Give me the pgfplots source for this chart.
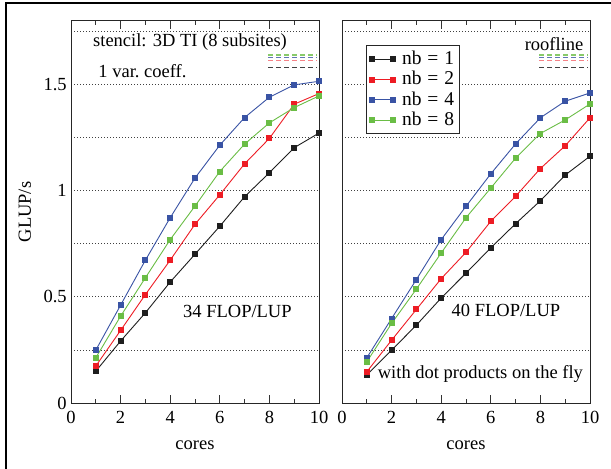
\documentclass[border=0pt]{standalone}
\usepackage{fontspec}
\setmainfont{Liberation Serif}
\usepackage{pgfplots}
\usepackage{pgfplotstable}
\pgfplotsset{compat=1.18}

\definecolor{nbone}{RGB}{30,30,30}
\definecolor{nbtwo}{RGB}{237,28,36}
\definecolor{nbfour}{RGB}{57,83,164}
\definecolor{nbeight}{RGB}{106,189,69}

% GLUP/s versus cores, 34 FLOP/LUP kernel
\pgfplotstableread{
cores nb1   nb2   nb4   nb8
1     0.150 0.174 0.249 0.213
2     0.292 0.342 0.461 0.409
3     0.425 0.511 0.673 0.590
4     0.570 0.673 0.873 0.770
5     0.701 0.842 1.060 0.928
6     0.833 0.981 1.215 1.091
7     0.972 1.127 1.345 1.220
8     1.085 1.247 1.441 1.320
9     1.203 1.408 1.499 1.392
10    1.272 1.458 1.516 1.447
}\leftdata

% GLUP/s versus cores, 40 FLOP/LUP kernel (dot products on the fly)
\pgfplotstableread{
cores nb1   nb2   nb4   nb8
1     0.132 0.147 0.213 0.194
2     0.249 0.296 0.398 0.375
3     0.367 0.441 0.582 0.537
4     0.495 0.586 0.770 0.707
5     0.612 0.710 0.927 0.873
6     0.731 0.856 1.080 1.013
7     0.845 0.974 1.221 1.154
8     0.953 1.105 1.344 1.270
9     1.074 1.212 1.422 1.334
10    1.163 1.344 1.461 1.409
}\rightdata

\newcommand{\nbeq}[1]{nb\hspace{0.3em}=\hspace{0.3em}#1}

\pgfplotsset{
  panel/.style={
    scale only axis, width=248bp, height=382bp,
    xmin=0, xmax=10, ymin=0, ymax=1.8,
    xtick={0,2,...,10}, minor xtick={1,3,...,9},
    ytick={0,0.5,1,1.5}, minor ytick={0.25,0.75,1.25,1.75},
    tick align=inside,
    major tick length=8bp, minor tick length=4bp,
    every y tick/.style={draw=none},
    every minor y tick/.style={draw=none},
    every tick/.style={line width=0.8bp, black!80},
    ymajorgrids, yminorgrids,
    major grid style={line width=0.8bp, black!75, dash pattern=on 0.8bp off 2.2bp},
    minor grid style={line width=0.8bp, black!75, dash pattern=on 0.8bp off 2.2bp},
    axis line style={line width=1bp, black!85},
    /pgf/number format/assume math mode=true,
    xticklabel style={yshift=-2bp},
    yticklabel style={xshift=2bp},
    xlabel={cores},
    xlabel style={yshift=-4bp},
    every axis plot/.append style={line width=0.9bp, mark=square*, mark size=2.5bp},
    legend image code/.code={\draw[#1] plot coordinates {(0bp,0bp) (21bp,0bp)};},
    clip=false,
  },
  roof/.style={line width=1.1bp, dash pattern=on 5bp off 3bp, mark=none, forget plot},
}

\begin{document}
\fontsize{18.5bp}{22bp}\selectfont
\begin{tikzpicture}
\useasboundingbox (0,0) rectangle (611bp,469bp);
\draw[line width=2bp] (6bp,0) -- (6bp,466bp) -- (611bp,466bp);

\begin{axis}[panel, at={(71bp,66bp)}, anchor=south west, ylabel={GLUP/s}]
  \addplot[roof, nbeight!80] coordinates {(7.95,1.640) (9.9,1.640)};
  \addplot[roof, nbfour!80] coordinates {(7.95,1.629) (9.9,1.629)};
  \addplot[roof, nbtwo!55] coordinates {(7.95,1.613) (9.9,1.613)};
  \addplot[roof, nbone!85] coordinates {(7.95,1.579) (9.9,1.579)};
  \addplot[nbone] table[x=cores, y=nb1] {\leftdata};
  \addplot[nbtwo] table[x=cores, y=nb2] {\leftdata};
  \addplot[nbfour] table[x=cores, y=nb4] {\leftdata};
  \addplot[nbeight] table[x=cores, y=nb8] {\leftdata};
  \node at (axis cs:4.8,1.70) {stencil: 3D TI (8 subsites)};
  \node at (axis cs:2.88,1.563) {1 var.\ coeff.};
  \node at (axis cs:6.71,0.43) {34 FLOP/LUP};
\end{axis}

\begin{axis}[panel, at={(342bp,66bp)}, anchor=south west, yticklabels={},
  legend style={at={(0.097,0.937)}, anchor=north west, draw=black!85,
    line width=1bp, fill=white, inner sep=3bp, row sep=-1bp, column sep=4bp,
    nodes={inner sep=2.5bp}, font=\fontsize{19.5bp}{22bp}\selectfont},
  legend cell align=left]
  \addplot[roof, nbeight!80] coordinates {(7.95,1.640) (9.9,1.640)};
  \addplot[roof, nbfour!80] coordinates {(7.95,1.629) (9.9,1.629)};
  \addplot[roof, nbtwo!55] coordinates {(7.95,1.613) (9.9,1.613)};
  \addplot[roof, nbone!85] coordinates {(7.95,1.579) (9.9,1.579)};
  \addplot[nbone] table[x=cores, y=nb1] {\rightdata};
  \addplot[nbtwo] table[x=cores, y=nb2] {\rightdata};
  \addplot[nbfour] table[x=cores, y=nb4] {\rightdata};
  \addplot[nbeight] table[x=cores, y=nb8] {\rightdata};
  \legend{\nbeq{1}, \nbeq{2}, \nbeq{4}, \nbeq{8}}
  \node at (axis cs:8.55,1.689) {roofline};
  \node at (axis cs:6.61,0.437) {40 FLOP/LUP};
  \node at (axis cs:5.58,0.135) {with dot products on the fly};
\end{axis}
\end{tikzpicture}
\end{document}
